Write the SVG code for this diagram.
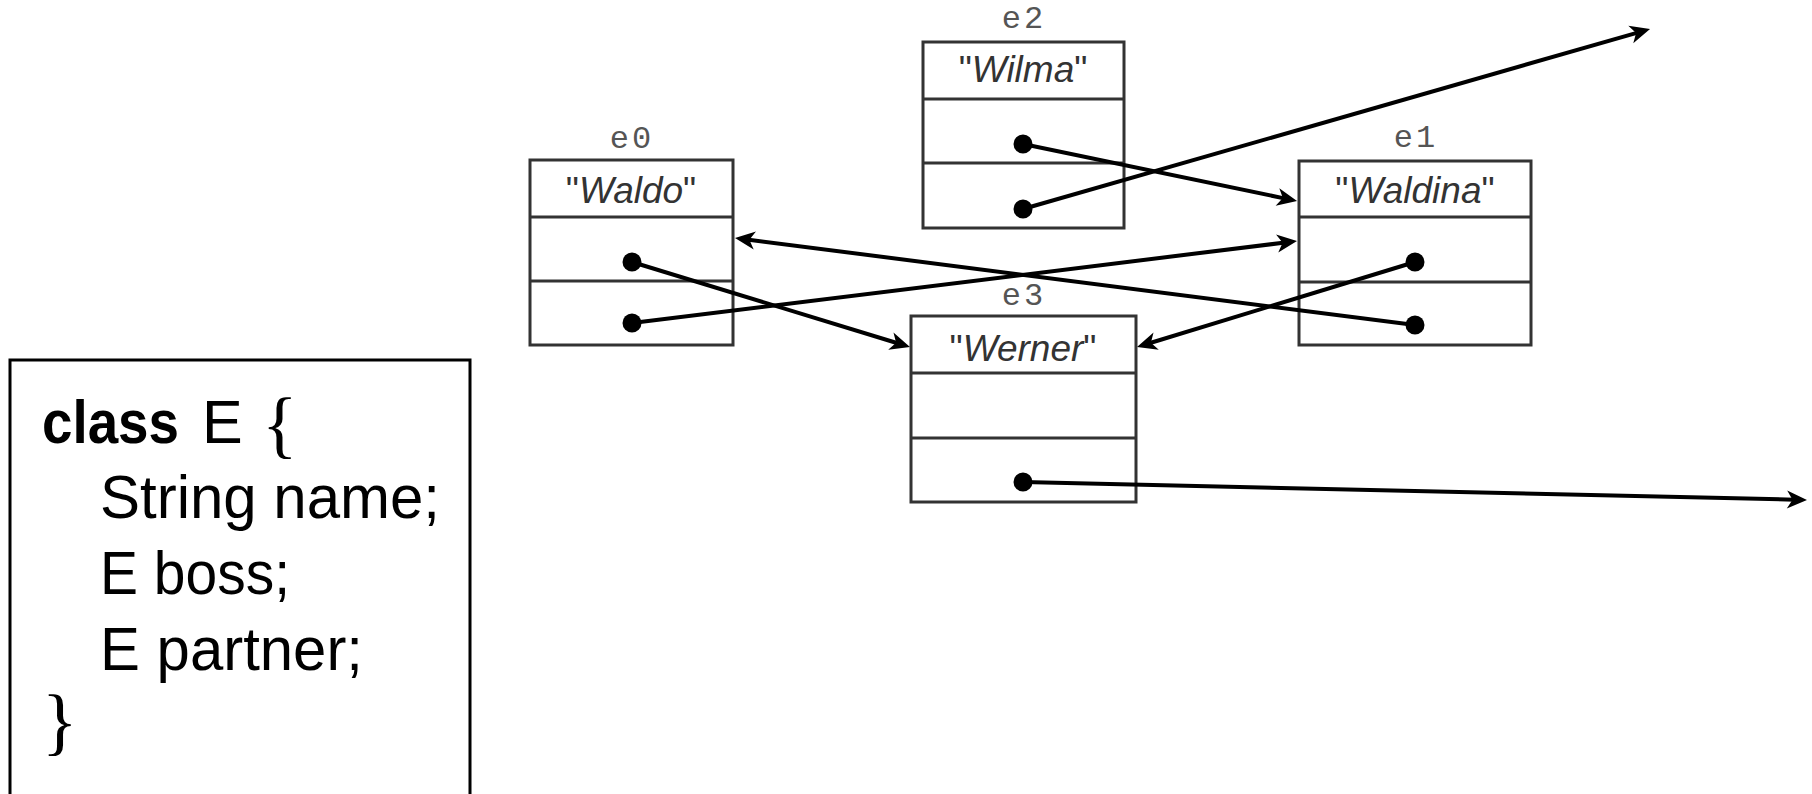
<svg xmlns="http://www.w3.org/2000/svg" width="1812" height="794" viewBox="0 0 1812 794">
<style>
.box{fill:#fff;stroke:#333;stroke-width:3}
.sep{stroke:#333;stroke-width:3}
.lbl{font-family:"Liberation Mono",monospace;font-size:32px;fill:#555;text-anchor:middle;letter-spacing:3px}
.nm{font-family:"Liberation Sans",Arial,sans-serif;font-size:37px;fill:#333;text-anchor:middle}
.it{font-style:italic}
.cls{font-family:"Liberation Sans",Arial,sans-serif;font-size:61px;fill:#000}
.br{font-family:"Liberation Serif",serif;font-size:74px;fill:#000}
.con{stroke:#000;stroke-width:4;fill:none;marker-end:url(#ah)}
.dot{fill:#000}
</style>
<defs>
<marker id="ah" markerUnits="userSpaceOnUse" markerWidth="40" markerHeight="40" refX="0" refY="0" viewBox="-10 -20 40 40" orient="auto" overflow="visible">
<path d="M12,0 L-8,-9 L-2.5,0 L-8,9 Z" fill="#000"/>
</marker>
</defs>
<rect width="1812" height="794" fill="#fff"/>

<g id="class-box">
<path d="M10,800 L10,360 L470,360 L470,800" fill="none" stroke="#000" stroke-width="3"/>
<text class="cls" x="42" y="443" font-weight="bold" textLength="137" lengthAdjust="spacingAndGlyphs">class</text>
<text class="cls" x="202" y="443">E</text>
<text class="br" x="262" y="449">{</text>
<text class="cls" x="100" y="518" textLength="340" lengthAdjust="spacingAndGlyphs">String name;</text>
<text class="cls" x="100" y="594" textLength="190" lengthAdjust="spacingAndGlyphs">E boss;</text>
<text class="cls" x="100" y="670" textLength="263" lengthAdjust="spacingAndGlyphs">E partner;</text>
<text class="br" x="42" y="746">}</text>
</g>

<g id="e0">
<text class="lbl" x="632" y="148">e0</text>
<rect class="box" x="530" y="160" width="203" height="185"/>
<line class="sep" x1="530" y1="217" x2="733" y2="217"/>
<line class="sep" x1="530" y1="281" x2="733" y2="281"/>
<text class="nm" x="631" y="203">"<tspan class="it">Waldo</tspan>"</text>
</g>

<g id="e2">
<text class="lbl" x="1024" y="28">e2</text>
<rect class="box" x="923" y="42" width="201" height="186"/>
<line class="sep" x1="923" y1="99" x2="1124" y2="99"/>
<line class="sep" x1="923" y1="163" x2="1124" y2="163"/>
<text class="nm" x="1023" y="82">"<tspan class="it">Wilma</tspan>"</text>
</g>

<g id="e3">
<text class="lbl" x="1024" y="305">e3</text>
<rect class="box" x="911" y="316" width="225" height="186"/>
<line class="sep" x1="911" y1="373" x2="1136" y2="373"/>
<line class="sep" x1="911" y1="438" x2="1136" y2="438"/>
<text class="nm" x="1023" y="361">"<tspan class="it">Werner</tspan>"</text>
</g>

<g id="e1">
<text class="lbl" x="1416" y="147">e1</text>
<rect class="box" x="1299" y="161" width="232" height="184"/>
<line class="sep" x1="1299" y1="217" x2="1531" y2="217"/>
<line class="sep" x1="1299" y1="282" x2="1531" y2="282"/>
<text class="nm" x="1415" y="203">"<tspan class="it">Waldina</tspan>"</text>
</g>

<g id="connectors">
<line class="con" x1="1023" y1="144" x2="1285.3" y2="198.6"/>
<line class="con" x1="1023" y1="209" x2="1638.5" y2="32.3"/>
<line class="con" x1="632" y1="262" x2="898.5" y2="343.5"/>
<line class="con" x1="632" y1="323" x2="1285.1" y2="242.5"/>
<line class="con" x1="1415" y1="262" x2="1148.5" y2="343.5"/>
<line class="con" x1="1415" y1="325" x2="746.9" y2="239.5"/>
<line class="con" x1="1023" y1="482" x2="1795" y2="499.7"/>
<circle class="dot" cx="1023" cy="144" r="9.5"/>
<circle class="dot" cx="1023" cy="209" r="9.5"/>
<circle class="dot" cx="632" cy="262" r="9.5"/>
<circle class="dot" cx="632" cy="323" r="9.5"/>
<circle class="dot" cx="1415" cy="262" r="9.5"/>
<circle class="dot" cx="1415" cy="325" r="9.5"/>
<circle class="dot" cx="1023" cy="482" r="9.5"/>
</g>
</svg>
